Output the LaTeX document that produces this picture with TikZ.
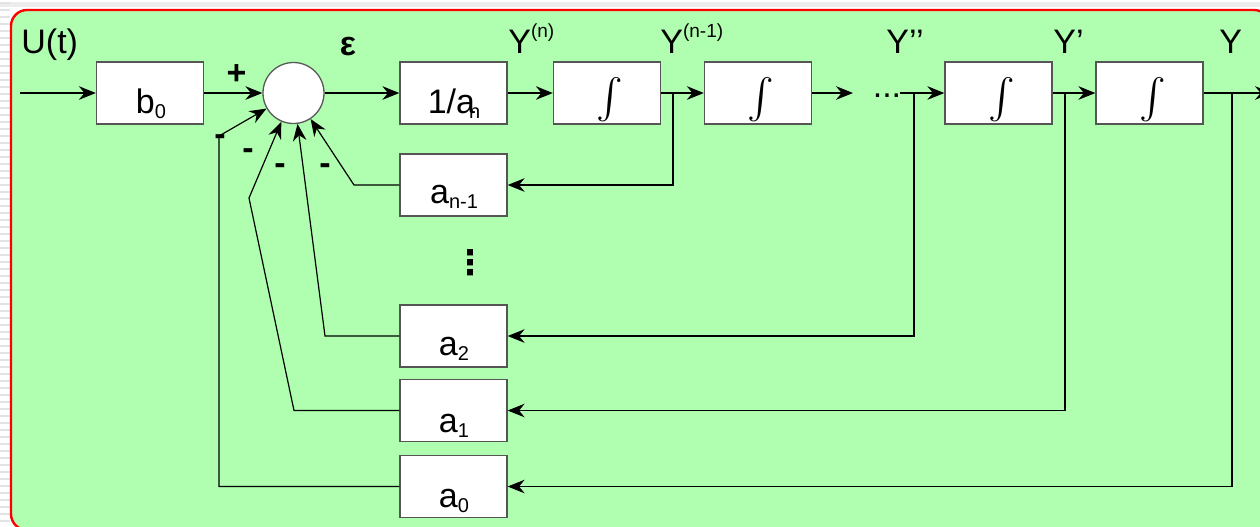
\documentclass[tikz,border=0pt]{standalone}
\usepackage{graphicx}
\usepackage{fontspec}
\setmainfont{Liberation Sans}
\newfontfamily\djv{DejaVu Sans}
\usetikzlibrary{arrows.meta}
\definecolor{bggreen}{RGB}{176,255,176}
\definecolor{boxline}{RGB}{85,85,85}
\newcommand\mysub[1]{\raisebox{-2.5pt}{\fontsize{10}{12}\selectfont #1}}
\newcommand\mysup[1]{\raisebox{7.7pt}{\fontsize{9.5}{11}\selectfont #1}}
\begin{document}
\begin{tikzpicture}[x=0.5pt,y=-0.5pt,
  blk/.style={draw=boxline, fill=white, line width=0.65pt, minimum width=53.5pt, minimum height=31pt, inner sep=0pt},
  lbl/.style={font=\fontsize{17}{20}\selectfont, inner sep=0pt, anchor=base},
  sgn/.style={font=\fontsize{17}{20}\selectfont\bfseries, inner sep=0pt, anchor=base},
  intg/.style={font=\fontsize{10}{12}\selectfont, inner sep=0pt},
  arr/.style={-{Stealth[length=8.5pt,width=6.8pt,inset=2.8pt]}, line width=0.6pt},
  ln/.style={line width=0.6pt}]
\useasboundingbox (0,0) rectangle (1260,526);
\clip (0,0) rectangle (1260,526);
% outer background
\fill[white] (0,0) rectangle (1260,526);
\fill[gray!15] (0,2) rectangle (1260,7);
\foreach \yy in {3,10,...,524} \draw[gray!22,line width=1pt] (0,\yy) -- (10,\yy);
% panel
\draw[draw=red, line width=1.2pt, fill=bggreen, rounded corners=8pt] (11,10) rectangle (1270,530);

% blocks
\node[blk] (b0) at (150,93) {};
\node[circle, draw=gray!70!black, fill=white, line width=0.65pt, minimum size=30.5pt, inner sep=0pt] (sum) at (293.5,93) {};
\node[blk] (an) at (453.5,93) {};
\node[blk] (i1) at (607,93) {};
\node[blk] (i2) at (758,93) {};
\node[blk] (i3) at (998.5,93) {};
\node[blk] (i4) at (1149.5,93) {};
\node[blk] (anm1) at (453.5,185) {};
\node[blk] (a2) at (453.5,336) {};
\node[blk] (a1) at (453.5,410.5) {};
\node[blk] (a0) at (453.5,486.5) {};

% block texts
\node[lbl] (tb0) at (151,113) {b\mysub{0}};
\node[lbl] (tan) at (454,113) {1/a\kern-3pt\mysub{n}};
\node[intg] (ti1) at (610,99.5) {\scalebox{2}{$\int$}};
\node[intg] (ti2) at (761,99.5) {\scalebox{2}{$\int$}};
\node[intg] (ti3) at (1001.5,99.5) {\scalebox{2}{$\int$}};
\node[intg] (ti4) at (1152.5,99.5) {\scalebox{2}{$\int$}};
\node[lbl] (tanm1) at (454,203) {a\mysub{n-1}};
\node[lbl] (ta2) at (454,355) {a\mysub{2}};
\node[lbl] (ta1) at (454,432) {a\mysub{1}};
\node[lbl] (ta0) at (454,507) {a\mysub{0}};

% top labels
\node[lbl, anchor=base west] (lu) at (21,53) {U(t)};
\node[lbl, font=\fontsize{17}{20}\selectfont\bfseries] (leps) at (348,55) {ε};
\node[lbl, anchor=base west] (lyn) at (508,53) {Y\mysup{(n)}};
\node[lbl, anchor=base west] (lyn1) at (660,53) {Y\mysup{(n-1)}};
\node[lbl, anchor=base west] (ly2) at (886,53) {Y’’};
\node[lbl, anchor=base west] (ly1) at (1053,53) {Y’};
\node[lbl, anchor=base west] (ly0) at (1219,53) {Y};
\node[lbl] (dots) at (887,97) {...};
\node[font=\djv\fontsize{17}{20}\selectfont\bfseries, inner sep=0pt] (vdots) at (470,263) {⋮};

% signs
\node[sgn] (splus) at (236.5,84.5) {+};
\node[sgn] (sm0) at (220,145.5) {-};
\node[sgn] (sm1) at (248,159.5) {-};
\node[sgn] (sm2) at (280,174.5) {-};
\node[sgn] (sm3) at (325,174.5) {-};

% coordinates
\coordinate (uin) at (20,93);
\coordinate (dl) at (853,93);
\coordinate (dr) at (900,93);
\coordinate (yout) at (1272,93);
\coordinate (p1) at (673,93);
\coordinate (p2) at (914,93);
\coordinate (p3) at (1065,93);
\coordinate (p4) at (1232,93);
\coordinate (k1) at (354,185);
\coordinate (k2) at (325,336);
\coordinate (k3a) at (294,410.5);
\coordinate (k3b) at (249,198);
\coordinate (k4a) at (219,486.5);
\coordinate (k4b) at (219,136);

% forward path
\draw[arr] (uin) -- (b0.west);
\draw[arr] (b0.east) -- (sum.west);
\draw[arr] (sum.east) -- (an.west);
\draw[arr] (an.east) -- (i1.west);
\draw[arr] (i1.east) -- (i2.west);
\draw[arr] (i2.east) -- (dl);
\draw[arr] (dr) -- (i3.west);
\draw[arr] (i3.east) -- (i4.west);
\draw[arr] (i4.east) -- (yout);

% feedback
\draw[arr] (p1) |- (anm1.east);
\draw[arr] (p2) |- (a2.east);
\draw[arr] (p3) |- (a1.east);
\draw[arr] (p4) |- (a0.east);
\draw[arr] (anm1.west) -- (k1) -- (sum);
\draw[arr] (a2.west) -- (k2) -- (sum);
\draw[arr] (a1.west) -- (k3a) -- (k3b) -- (sum);
\draw[arr] (a0.west) -- (k4a) -- (k4b) -- (sum);
\end{tikzpicture}
\end{document}
